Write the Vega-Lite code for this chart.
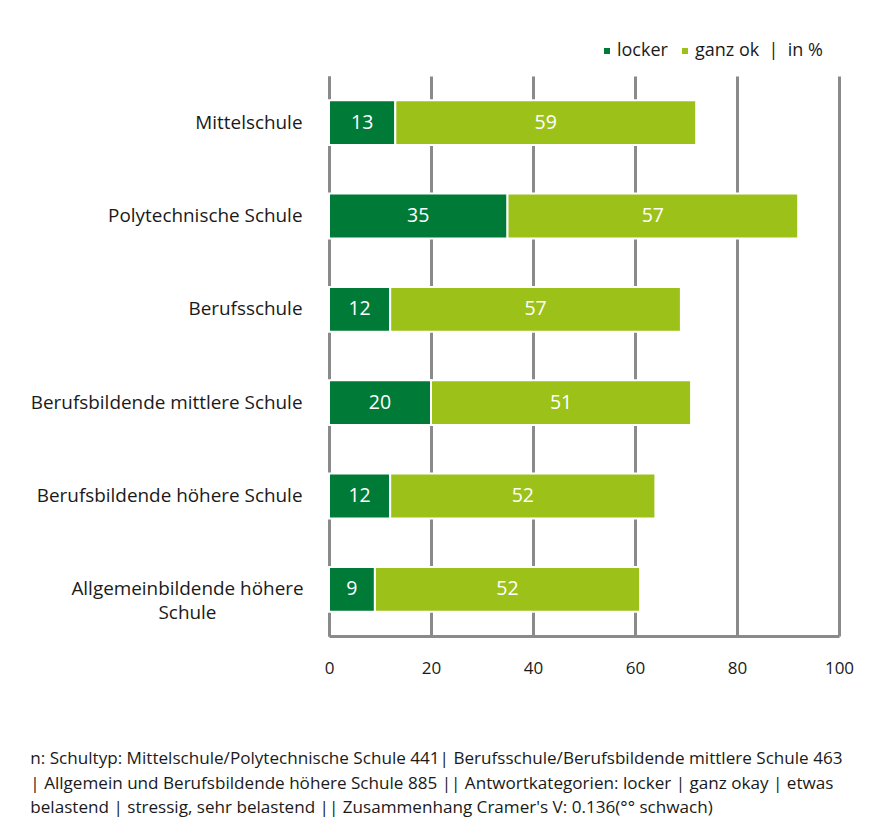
{
  "$schema": "https://vega.github.io/schema/vega-lite/v6.json",
  "width": 510,
  "height": 560,
  "padding": {"left": 30, "top": 42, "right": 20, "bottom": 10},
  "background": "white",
  "config": {
    "font": "Open Sans",
    "view": {"stroke": null}
  },
  "title": {
    "text": [
      "n: Schultyp: Mittelschule/Polytechnische Schule 441| Berufsschule/Berufsbildende mittlere Schule 463",
      "| Allgemein und Berufsbildende höhere Schule 885 || Antwortkategorien: locker | ganz okay | etwas",
      "belastend | stressig, sehr belastend || Zusammenhang Cramer's V: 0.136(°° schwach)"
    ],
    "orient": "bottom",
    "anchor": "start",
    "frame": "bounds",
    "font": "Open Sans",
    "fontSize": 17.1,
    "fontWeight": "normal",
    "color": "#1a1a1a",
    "lineHeight": 24.5,
    "offset": 74
  },
  "data": {
    "values": [
      {"schule": "Mittelschule", "kategorie": "locker", "wert": 13, "k": 1},
      {"schule": "Mittelschule", "kategorie": "ganz ok", "wert": 59, "k": 2},
      {"schule": "Polytechnische Schule", "kategorie": "locker", "wert": 35, "k": 1},
      {"schule": "Polytechnische Schule", "kategorie": "ganz ok", "wert": 57, "k": 2},
      {"schule": "Berufsschule", "kategorie": "locker", "wert": 12, "k": 1},
      {"schule": "Berufsschule", "kategorie": "ganz ok", "wert": 57, "k": 2},
      {"schule": "Berufsbildende mittlere Schule", "kategorie": "locker", "wert": 20, "k": 1},
      {"schule": "Berufsbildende mittlere Schule", "kategorie": "ganz ok", "wert": 51, "k": 2},
      {"schule": "Berufsbildende höhere Schule", "kategorie": "locker", "wert": 12, "k": 1},
      {"schule": "Berufsbildende höhere Schule", "kategorie": "ganz ok", "wert": 52, "k": 2},
      {"schule": "Allgemeinbildende höhere Schule", "kategorie": "locker", "wert": 9, "k": 1},
      {"schule": "Allgemeinbildende höhere Schule", "kategorie": "ganz ok", "wert": 52, "k": 2}
    ]
  },
  "transform": [
    {"stack": "wert", "groupby": ["schule"], "sort": [{"field": "k", "order": "ascending"}], "as": ["x0", "x1"]},
    {"calculate": "(datum.x0 + datum.x1) / 2", "as": "xmid"}
  ],
  "encoding": {
    "y": {
      "field": "schule",
      "type": "nominal",
      "sort": ["Mittelschule", "Polytechnische Schule", "Berufsschule", "Berufsbildende mittlere Schule", "Berufsbildende höhere Schule", "Allgemeinbildende höhere Schule"],
      "scale": {"paddingInner": 0.52, "paddingOuter": 0.26},
      "axis": {
        "title": null,
        "ticks": false,
        "domain": true,
        "domainColor": "#8a8a8a",
        "domainWidth": 3,
        "labelFont": "Open Sans",
        "labelFontSize": 18.9,
        "labelColor": "#1a1a1a",
        "labelLimit": 400,
        "labelLineHeight": 24,
        "labelExpr": "datum.value == 'Allgemeinbildende höhere Schule' ? ['Allgemeinbildende höhere', 'Schule'] : datum.value",
        "labelAlign": {"condition": {"test": "datum.value == 'Allgemeinbildende höhere Schule'", "value": "center"}, "value": "right"},
        "labelPadding": {"condition": {"test": "datum.value == 'Allgemeinbildende höhere Schule'", "value": 142}, "value": 27}
      }
    }
  },
  "layer": [
    {
      "mark": {"type": "bar", "stroke": "white", "strokeWidth": 2},
      "encoding": {
        "x": {
          "field": "x0",
          "type": "quantitative",
          "scale": {"domain": [0, 100], "nice": false},
          "axis": {
            "title": null,
            "values": [0, 20, 40, 60, 80, 100],
            "ticks": false,
            "grid": true,
            "gridColor": "#8a8a8a",
            "gridWidth": 3,
            "domain": true,
            "domainColor": "#8a8a8a",
            "domainWidth": 3,
            "labelFont": "Open Sans",
            "labelFontSize": 17,
            "labelColor": "#1a1a1a",
            "labelPadding": 24,
            "labelFlush": false
          }
        },
        "x2": {"field": "x1"},
        "color": {
          "field": "kategorie",
          "type": "nominal",
          "scale": {"domain": ["locker", "ganz ok"], "range": ["#007a37", "#9cc21a"]},
          "legend": {
            "title": null,
            "orient": "none",
            "direction": "horizontal",
            "legendX": 269,
            "legendY": -34,
            "symbolType": "square",
            "symbolSize": 36,
            "symbolStrokeWidth": 0,
            "labelFont": "Open Sans",
            "labelFontSize": 18,
            "labelColor": "#1a1a1a",
            "labelOffset": 1,
            "columnPadding": 8,
            "labelExpr": "datum.label == 'ganz ok' ? 'ganz ok \u00a0|\u00a0 in %' : datum.label"
          }
        }
      }
    },
    {
      "mark": {"type": "text", "color": "white", "fontSize": 19.5, "font": "Open Sans", "baseline": "middle", "align": "center"},
      "encoding": {
        "x": {"field": "xmid", "type": "quantitative"},
        "text": {"field": "wert", "type": "quantitative"}
      }
    }
  ]
}
